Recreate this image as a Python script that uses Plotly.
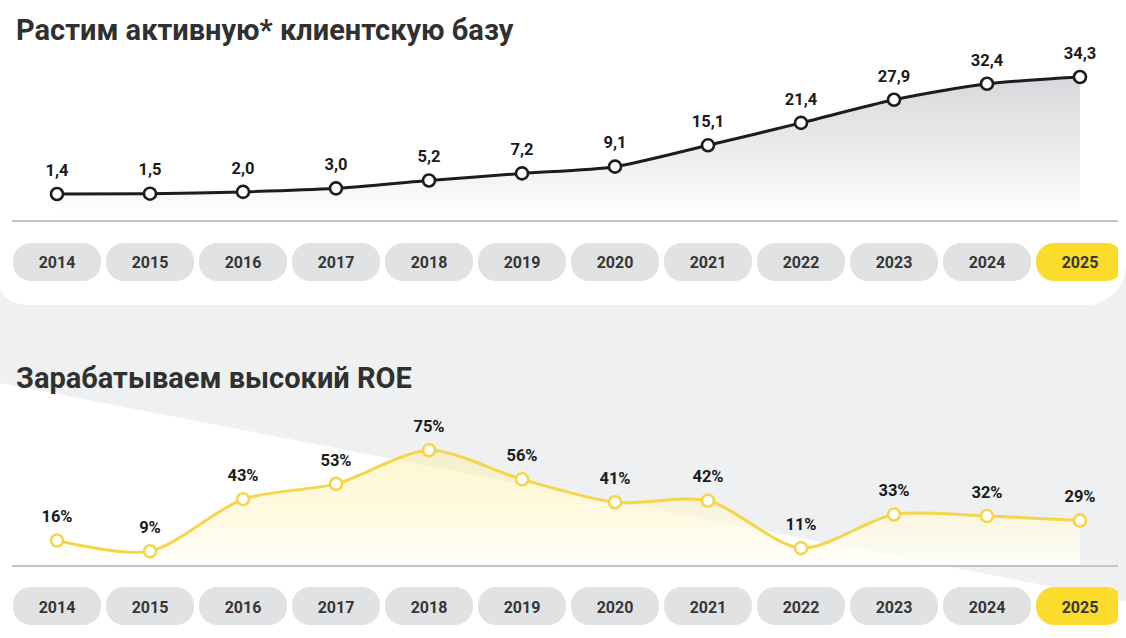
import plotly.graph_objects as go

W, H = 1126, 638

years = [2014, 2015, 2016, 2017, 2018, 2019, 2020, 2021, 2022, 2023, 2024, 2025]
year_labels = ["2014", "2015", "2016", "2017", "2018", "2019", "2020", "2021", "2022", "2023", "2024", "2025"]
clients = [1.4, 1.5, 2.0, 3.0, 5.2, 7.2, 9.1, 15.1, 21.4, 27.9, 32.4, 34.3]
roe = [16, 9, 43, 53, 75, 56, 41, 42, 11, 33, 32, 29]

title_top = "Растим активную* клиентскую базу"
title_bottom = "Зарабатываем высокий ROE"

FONT = "Roboto"
GREY_BG = "#eef0f2"
PILL = "#e1e2e4"
YELLOW = "#fbdc2c"
LINE_YELLOW = "#f4d64c"


def px(x, y):
    return "%.5f,%.5f" % (x / W, 1 - y / H)


def rounded_pill(w, h, r):
    # rounded rectangle in pixels around the anchor (symmetric)
    k = 0.5523 * r
    return (
        f"M{-w + r},{-h} L{w - r},{-h} C{w - r + k},{-h} {w},{-h + r - k} {w},{-h + r} "
        f"L{w},{h - r} C{w},{h - r + k} {w - r + k},{h} {w - r},{h} "
        f"L{-w + r},{h} C{-w + r - k},{h} {-w},{h - r + k} {-w},{h - r} "
        f"L{-w},{-h + r} C{-w},{-h + r - k} {-w + r - k},{-h} {-w + r},{-h} Z"
    )


fig = go.Figure()

label_font = dict(family=FONT, size=16.5, color="#1b1b1b", weight="bold")

# top chart: client base
y_top_min = -5.9
fig.add_trace(go.Scatter(
    x=years, y=[y_top_min] * len(years), mode="lines",
    line=dict(width=0), hoverinfo="skip", showlegend=False,
    xaxis="x", yaxis="y"))
fig.add_trace(go.Scatter(
    x=years, y=clients, mode="lines+markers",
    line=dict(color="#1c1c1c", width=3, shape="spline", smoothing=0.7),
    marker=dict(size=12, color="white", line=dict(color="#1c1c1c", width=2.6)),
    fill="tonexty",
    fillgradient=dict(type="vertical",
                      colorscale=[[0, "rgba(255,255,255,1)"], [1, "#d7d8db"]]),
    cliponaxis=False, showlegend=False,
    xaxis="x", yaxis="y"))
fig.add_trace(go.Scatter(
    x=years, y=clients, mode="markers+text",
    marker=dict(size=21, color="rgba(0,0,0,0)"),
    text=[f"{v:.1f}".replace(".", ",") for v in clients],
    textposition="top center", textfont=label_font,
    cliponaxis=False, showlegend=False, hoverinfo="skip",
    xaxis="x", yaxis="y"))

# bottom chart: ROE
fig.add_trace(go.Scatter(
    x=years, y=roe, mode="lines+markers",
    line=dict(color=LINE_YELLOW, width=3, shape="spline", smoothing=0.8),
    marker=dict(size=12, color="white", line=dict(color=LINE_YELLOW, width=2.6)),
    fill="tozeroy",
    fillgradient=dict(type="vertical",
                      colorscale=[[0, "rgba(255,255,255,0.9)"], [1, "rgba(253,238,160,0.45)"]]),
    cliponaxis=False, showlegend=False,
    xaxis="x2", yaxis="y2"))
fig.add_trace(go.Scatter(
    x=years, y=roe, mode="markers+text",
    marker=dict(size=21, color="rgba(0,0,0,0)"),
    text=[f"{v}%" for v in roe],
    textposition="top center", textfont=label_font,
    cliponaxis=False, showlegend=False, hoverinfo="skip",
    xaxis="x2", yaxis="y2"))

# background decoration
shapes = [
    dict(type="path", xref="paper", yref="paper", layer="below", line=dict(width=0),
         fillcolor="white",
         path=f"M{px(0, 383)} L{px(1126, 601)} L{px(1126, 638)} L{px(0, 638)} Z"),
    dict(type="path", xref="paper", yref="paper", layer="below", line=dict(width=0),
         fillcolor="white",
         path=(f"M{px(0, 0)} L{px(1126, 0)} L{px(1126, 265)} "
               f"C{px(1126, 287)} {px(1108, 305)} {px(1086, 305)} "
               f"L{px(30, 305)} C{px(13, 305)} {px(0, 298)} {px(0, 285)} Z")),
]
for xref, ycenter in (("x", 262), ("x2", 606)):
    for yr in years:
        shapes.append(dict(
            type="path", xref=xref, yref="paper", layer="below",
            xsizemode="pixel", ysizemode="pixel",
            xanchor=yr, yanchor=1 - ycenter / H,
            path=rounded_pill(44, 19, 18),
            fillcolor=YELLOW if yr == years[-1] else PILL,
            line=dict(width=0)))

# x axis: point 2014 at px 57, step 93 px; axis line from px 12 to 1118
x_dom = [12 / W, 1118 / W]
x_rng = [years[0] + (12 - 57) / 93, years[0] + (1118 - 57) / 93]
xaxis_common = dict(
    domain=x_dom, range=x_rng, showgrid=False, zeroline=False,
    showline=True, linecolor="#c4c4c6", linewidth=1.5,
    tickvals=years, ticktext=year_labels, ticks="",
    ticklabelstandoff=27,
    tickfont=dict(family=FONT, size=16, color="#363636", weight="bold"),
    fixedrange=True)

fig.update_layout(
    width=W, height=H,
    margin=dict(l=0, r=0, t=0, b=0),
    paper_bgcolor=GREY_BG, plot_bgcolor="rgba(0,0,0,0)",
    showlegend=False,
    xaxis=dict(anchor="y", **xaxis_common),
    yaxis=dict(domain=[1 - 220 / H, 1 - 60 / H],
               range=[y_top_min, 1.4 + (194 - 60) / 3.556],
               visible=False, fixedrange=True),
    xaxis2=dict(anchor="y2", **xaxis_common),
    yaxis2=dict(domain=[1 - 565 / H, 1 - 400 / H],
                range=[0, (565 - 400) / 1.53],
                visible=False, fixedrange=True),
    shapes=shapes,
    annotations=[
        dict(text=title_top, xref="paper", yref="paper", x=14 / W, y=1 - 30 / H,
             xanchor="left", yanchor="middle", showarrow=False,
             font=dict(family=FONT, size=29, color="#303030", weight="bold")),
        dict(text=title_bottom, xref="paper", yref="paper", x=14 / W, y=1 - 378 / H,
             xanchor="left", yanchor="middle", showarrow=False,
             font=dict(family=FONT, size=29, color="#303030", weight="bold")),
    ],
)

fig.write_html("out.html", config={"displayModeBar": False},
               post_script="document.body.style.margin='0px';")
